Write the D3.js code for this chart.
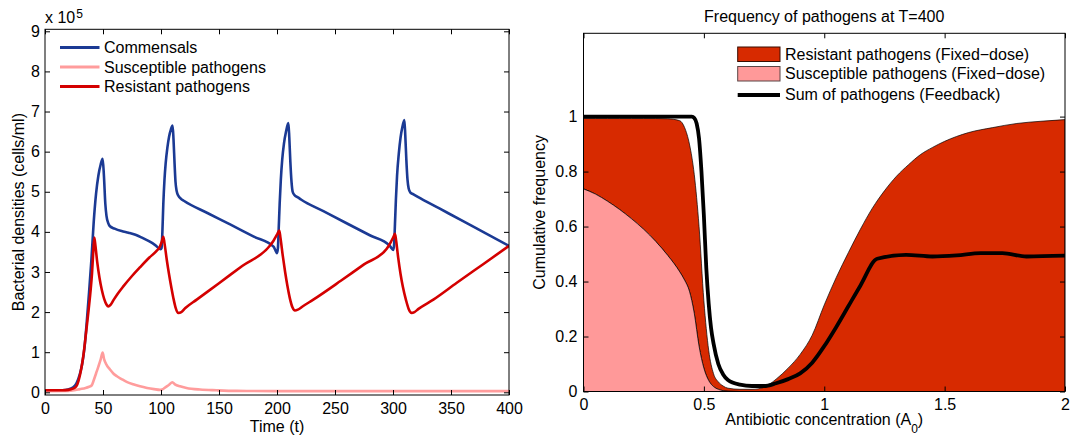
<!DOCTYPE html>
<html><head><meta charset="utf-8">
<script src="https://cdn.jsdelivr.net/npm/d3@7"></script>
<style>
html,body{margin:0;padding:0;background:#fff;}
svg{display:block;font-family:"Liberation Sans",Arial,Helvetica,sans-serif;}
</style></head><body>
<svg id="chart" width="1073" height="437"></svg>
<script>
// ---------------- Left panel data (densities in units of 1e5 cells/ml) ----------------
const timeTicks = [0, 50, 100, 150, 200, 250, 300, 350, 400];
const densityTicks = [0, 1, 2, 3, 4, 5, 6, 7, 8, 9];
const leftSeriesNames = ["Commensals", "Susceptible pathogens", "Resistant pathogens"];

const commensals = [[0,0.05],[15,0.05],[20,0.07],[24,0.12],[27,0.22],[30,0.45],[32,0.7],[34,1.1],[36,1.75],[38,2.5],[40,3.3],[42,4.25],[44,4.95],[46,5.4],[48,5.68],[49.7,5.82],[50.8,5.4],[52,4.7],[53,4.4],[54.5,4.22],[56,4.14],[60,4.08],[66,4.02],[72,3.98],[78,3.93],[84,3.85],[90,3.76],[95,3.67],[99.7,3.57],[100.5,3.6],[101.2,4.0],[102,4.7],[103,5.3],[104,5.7],[105.5,6.1],[107,6.38],[108.5,6.55],[110,6.65],[110.8,6.3],[111.7,5.7],[112.5,5.25],[113.5,5.02],[115,4.9],[117,4.83],[120,4.77],[140,4.47],[160,4.18],[180,3.88],[197,3.63],[198.5,3.55],[200,3.47],[200.8,3.6],[201.5,4.1],[202.3,4.7],[203.3,5.3],[204.5,5.8],[206,6.2],[207.8,6.5],[209.8,6.71],[210.6,6.35],[211.5,5.75],[212.5,5.25],[213.5,5.0],[215,4.92],[218,4.86],[221,4.8],[240,4.515],[260,4.215],[280,3.915],[297,3.66],[298.5,3.6],[300.3,3.55],[301,3.7],[301.7,4.2],[302.5,4.8],[303.5,5.4],[305,5.95],[306.5,6.35],[308,6.6],[309.8,6.79],[310.6,6.4],[311.5,5.8],[312.5,5.3],[313.5,5.08],[315,4.98],[318,4.93],[321,4.88],[340,4.584],[360,4.273],[380,3.96],[400,3.65]];

const susceptible = [[0,0.03],[20,0.035],[25,0.05],[30,0.08],[35,0.11],[38,0.14],[40.2,0.17],[42,0.3],[44,0.47],[46,0.64],[48,0.82],[49.7,0.99],[51,0.82],[53.2,0.68],[56,0.57],[58.9,0.47],[62,0.4],[66,0.33],[70.4,0.26],[76,0.2],[81.9,0.15],[88,0.11],[94,0.08],[99.1,0.06],[101,0.07],[104,0.13],[107,0.19],[109.8,0.25],[112,0.2],[116.4,0.15],[122,0.11],[133.6,0.07],[148,0.05],[165,0.035],[200,0.03],[400,0.03]];

const resistant = [[0,0.05],[15,0.05],[20,0.06],[24,0.09],[27,0.15],[29,0.3],[31,0.55],[33,0.9],[35,1.38],[37,1.9],[39,2.45],[40.5,2.95],[41.5,3.45],[42.5,3.86],[43.5,3.65],[45,3.25],[47,2.85],[49,2.55],[51,2.33],[53,2.19],[54.6,2.14],[56.5,2.18],[59.3,2.31],[63,2.47],[67.5,2.64],[75,2.9],[82,3.12],[90,3.36],[96,3.52],[99,3.63],[100.5,3.74],[102,3.88],[103,3.72],[105,3.3],[107,2.93],[109,2.6],[110.6,2.36],[112.5,2.12],[115,1.98],[117.5,2.0],[121,2.1],[130.8,2.31],[150,2.72],[170,3.15],[194,3.66],[197,3.78],[200,3.93],[202,4.03],[203,3.85],[205,3.4],[207,3.0],[209,2.65],[211.2,2.33],[213.3,2.12],[215.5,2.04],[218,2.06],[222,2.14],[231.3,2.31],[255,2.78],[275,3.19],[294.6,3.58],[298,3.74],[300.5,3.88],[301.7,3.95],[302.7,3.78],[304.5,3.35],[306.5,2.95],[308.5,2.63],[311.2,2.3],[313.5,2.08],[316,1.98],[318.5,2.0],[322,2.08],[334.8,2.31],[355,2.73],[378,3.2],[400,3.65]];

// ---------------- Right panel data ----------------
const doseTicks = [0, 0.5, 1, 1.5, 2];
const freqTicks = [0, 0.2, 0.4, 0.6, 0.8, 1];
const rightSeriesNames = ["Resistant pathogens (Fixed\u2212dose)", "Susceptible pathogens (Fixed\u2212dose)", "Sum of pathogens (Feedback)"];

const doses = [0,0.05,0.1,0.15,0.2,0.25,0.3,0.35,0.4,0.42,0.44,0.46,0.48,0.5,0.52,0.54,0.56,0.58,0.6,0.65,0.7,0.75,0.8,0.85,0.9,0.95,1.0,1.05,1.1,1.15,1.2,1.25,1.3,1.35,1.4,1.45,1.5,1.6,1.7,1.8,1.9,2.0];
const susceptibleFixed = [0.737,0.718,0.692,0.662,0.628,0.59,0.546,0.495,0.435,0.405,0.365,0.285,0.165,0.085,0.04,0.018,0.008,0.003,0.001,0,0,0,0,0,0,0,0,0,0,0,0,0,0,0,0,0,0,0,0,0,0,0];
const resistantFixed = [0.256,0.275,0.301,0.331,0.365,0.403,0.447,0.497,0.55,0.555,0.535,0.505,0.435,0.245,0.11,0.047,0.027,0.017,0.011,0.008,0.008,0.015,0.045,0.085,0.135,0.205,0.315,0.415,0.505,0.59,0.667,0.73,0.783,0.825,0.862,0.888,0.91,0.942,0.96,0.975,0.983,0.989];

const feedbackDoses = [0,0.45,0.46,0.47,0.48,0.49,0.5,0.51,0.52,0.53,0.54,0.56,0.58,0.6,0.65,0.7,0.75,0.8,0.85,0.9,0.95,1.0,1.05,1.1,1.15,1.22,1.34,1.45,1.55,1.65,1.74,1.84,2.0];
const feedbackSum = [1.0,1.0,0.995,0.975,0.92,0.8,0.64,0.45,0.32,0.23,0.175,0.1,0.062,0.042,0.025,0.02,0.02,0.03,0.045,0.066,0.105,0.165,0.235,0.31,0.385,0.483,0.497,0.491,0.495,0.503,0.503,0.491,0.494];

// ---------------- Colours ----------------
const colBlue = "#1b3a94";
const colPink = "#ff9c9c";
const colRed = "#d40000";
const fillRed = "#d72a00";
const fillPink = "#ff9999";

const svg = d3.select("#chart");
const FS = 16;

function styleAxis(g) {
  g.select(".domain").remove();
  g.selectAll(".tick line").attr("stroke", "#000").attr("stroke-width", 1);
  g.selectAll(".tick text").attr("fill", "#000").attr("font-size", FS).attr("font-family", "Liberation Sans, Arial, sans-serif");
}

// ================= LEFT PANEL =================
const L = {x0: 45, x1: 509, y0: 29.3, y1: 395};
const xL = d3.scaleLinear().domain([0, 400]).range([L.x0, L.x1]);
const yL = d3.scaleLinear().domain([-0.067, 9.05]).range([L.y1, L.y0]);

svg.append("defs").append("clipPath").attr("id", "clipL")
  .append("rect").attr("x", L.x0).attr("y", L.y0).attr("width", L.x1 - L.x0).attr("height", L.y1 - L.y0);

const lineL = d3.line().x(d => xL(d[0])).y(d => yL(d[1])).curve(d3.curveMonotoneX);
const gL = svg.append("g").attr("clip-path", "url(#clipL)");
[[commensals, colBlue], [susceptible, colPink], [resistant, colRed]].forEach(([data, c]) => {
  gL.append("path").datum(data).attr("d", lineL).attr("fill", "none")
    .attr("stroke", c).attr("stroke-width", 2.6).attr("stroke-linejoin", "round");
});

svg.append("g").attr("transform", `translate(0,${L.y1})`)
  .call(d3.axisBottom(xL).tickValues(timeTicks).tickSizeInner(-5).tickSizeOuter(0).tickPadding(8)).call(styleAxis);
svg.append("g").attr("transform", `translate(0,${L.y0})`)
  .call(d3.axisTop(xL).tickValues(timeTicks).tickSizeInner(-5).tickSizeOuter(0).tickFormat("")).call(styleAxis);
svg.append("g").attr("transform", `translate(${L.x0},0)`)
  .call(d3.axisLeft(yL).tickValues(densityTicks).tickSizeInner(-5).tickSizeOuter(0).tickPadding(5)).call(styleAxis);
svg.append("g").attr("transform", `translate(${L.x1},0)`)
  .call(d3.axisRight(yL).tickValues(densityTicks).tickSizeInner(-5).tickSizeOuter(0).tickFormat("")).call(styleAxis);

svg.append("rect").attr("x", L.x0).attr("y", L.y0).attr("width", L.x1 - L.x0).attr("height", L.y1 - L.y0)
  .attr("fill", "none").attr("stroke", "#000").attr("stroke-width", 1);

// exponent
const expo = svg.append("text").attr("x", 45).attr("y", 23.3).attr("font-size", FS).attr("fill", "#000");
expo.append("tspan").text("x 10");
expo.append("tspan").attr("font-size", 12).attr("dy", -5).attr("dx", 1).text("5");

svg.append("text").attr("x", (L.x0 + L.x1) / 2).attr("y", 431.5).attr("text-anchor", "middle")
  .attr("font-size", FS).text("Time (t)");
svg.append("text").attr("transform", `translate(24,${(L.y0 + L.y1) / 2}) rotate(-90)`).attr("text-anchor", "middle")
  .attr("font-size", FS).text("Bacterial densities (cells/ml)");

// left legend
const legL = svg.append("g");
[colBlue, colPink, colRed].forEach((c, i) => {
  const y = 47.6 + i * 19.5;
  legL.append("line").attr("x1", 60).attr("x2", 99.5).attr("y1", y).attr("y2", y).attr("stroke", c).attr("stroke-width", 3);
  legL.append("text").attr("x", 104).attr("y", y).attr("dy", "0.35em").attr("font-size", FS).text(leftSeriesNames[i]);
});

// ================= RIGHT PANEL =================
const R = {x0: 583.5, x1: 1065, y0: 33.3, y1: 391.5};
const xR = d3.scaleLinear().domain([0, 2]).range([R.x0, R.x1]);
const yR = d3.scaleLinear().domain([0, 1.303]).range([R.y1, R.y0]);

svg.select("defs").append("clipPath").attr("id", "clipR")
  .append("rect").attr("x", R.x0).attr("y", R.y0).attr("width", R.x1 - R.x0).attr("height", R.y1 - R.y0);

const table = doses.map((d, i) => ({dose: d, susceptible: susceptibleFixed[i], resistant: resistantFixed[i]}));
const stacked = d3.stack().keys(["susceptible", "resistant"])(table);
const areaR = d3.area().x(d => xR(d.data.dose)).y0(d => yR(d[0])).y1(d => yR(d[1])).curve(d3.curveMonotoneX);
const gR = svg.append("g").attr("clip-path", "url(#clipR)");
const fills = {susceptible: fillPink, resistant: fillRed};
[stacked[1], stacked[0]].forEach(s => {
  gR.append("path").datum(s).attr("d", areaR).attr("fill", fills[s.key])
    .attr("stroke", "#000").attr("stroke-width", 0.7);
});
const feedbackData = feedbackDoses.map((d, i) => [d, feedbackSum[i]]);
gR.append("path").datum(feedbackData)
  .attr("d", d3.line().x(d => xR(d[0])).y(d => yR(d[1])).curve(d3.curveMonotoneX))
  .attr("fill", "none").attr("stroke", "#000").attr("stroke-width", 3.8).attr("stroke-linejoin", "round");

svg.append("g").attr("transform", `translate(0,${R.y1})`)
  .call(d3.axisBottom(xR).tickValues(doseTicks).tickSizeInner(-5).tickSizeOuter(0).tickPadding(7).tickFormat(d3.format("~g"))).call(styleAxis);
svg.append("g").attr("transform", `translate(0,${R.y0})`)
  .call(d3.axisTop(xR).tickValues(doseTicks).tickSizeInner(-5).tickSizeOuter(0).tickFormat("")).call(styleAxis);
svg.append("g").attr("transform", `translate(${R.x0},0)`)
  .call(d3.axisLeft(yR).tickValues(freqTicks).tickSizeInner(-5).tickSizeOuter(0).tickPadding(6).tickFormat(d3.format("~g"))).call(styleAxis);
svg.append("g").attr("transform", `translate(${R.x1},0)`)
  .call(d3.axisRight(yR).tickValues(freqTicks).tickSizeInner(-5).tickSizeOuter(0).tickFormat("")).call(styleAxis);

svg.append("rect").attr("x", R.x0).attr("y", R.y0).attr("width", R.x1 - R.x0).attr("height", R.y1 - R.y0)
  .attr("fill", "none").attr("stroke", "#000").attr("stroke-width", 1);

svg.append("text").attr("x", (R.x0 + R.x1) / 2).attr("y", 21.5).attr("text-anchor", "middle")
  .attr("font-size", FS).text("Frequency of pathogens at T=400");
const xl = svg.append("text").attr("x", (R.x0 + R.x1) / 2).attr("y", 425).attr("text-anchor", "middle").attr("font-size", FS);
xl.append("tspan").text("Antibiotic concentration (A");
xl.append("tspan").attr("font-size", 12).attr("dy", 8).text("0");
xl.append("tspan").attr("dy", -8).text(")");
svg.append("text").attr("transform", `translate(545,${(R.y0 + R.y1) / 2}) rotate(-90)`).attr("text-anchor", "middle")
  .attr("font-size", FS).text("Cumulative frequency");

// right legend
const legR = svg.append("g");
legR.append("rect").attr("x", 737.7).attr("y", 47).attr("width", 42.3).attr("height", 14.5)
  .attr("fill", fillRed).attr("stroke", "#3a0c00").attr("stroke-width", 1);
legR.append("rect").attr("x", 737.7).attr("y", 66.5).attr("width", 42.3).attr("height", 14.5)
  .attr("fill", fillPink).attr("stroke", "#5a4545").attr("stroke-width", 1);
legR.append("line").attr("x1", 737.7).attr("x2", 780).attr("y1", 95).attr("y2", 95)
  .attr("stroke", "#000").attr("stroke-width", 4);
[54.2, 73.8, 94.3].forEach((y, i) => {
  legR.append("text").attr("x", 785).attr("y", y).attr("dy", "0.35em").attr("font-size", FS).text(rightSeriesNames[i]);
});
</script>
</body></html>
